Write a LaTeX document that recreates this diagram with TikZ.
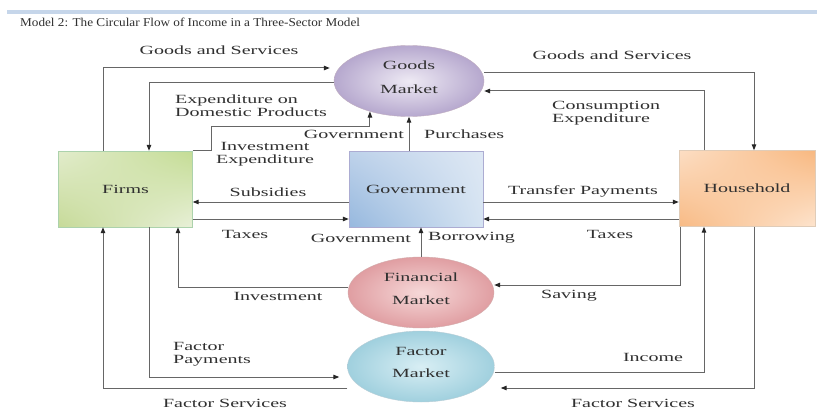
\documentclass[tikz,border=0pt]{standalone}
\usepackage{fontspec}
\setmainfont{Liberation Serif}[FakeStretch=1.6]
\newfontfamily\titlefont{Liberation Serif}[FakeStretch=1.1]
\usetikzlibrary{arrows.meta,shapes.geometric,shadings,calc}
\definecolor{txt}{HTML}{303030}
\definecolor{ln}{HTML}{666666}
\definecolor{bar}{HTML}{C6D6EA}
\definecolor{fUL}{RGB}{226,236,204}
\definecolor{fUR}{RGB}{196,220,148}
\definecolor{fLL}{RGB}{198,218,152}
\definecolor{fLR}{RGB}{232,240,216}
\definecolor{gUL}{RGB}{190,210,234}
\definecolor{gUR}{RGB}{222,232,244}
\definecolor{gLL}{RGB}{150,184,222}
\definecolor{gLR}{RGB}{214,228,242}
\definecolor{hUL}{RGB}{252,222,196}
\definecolor{hUR}{RGB}{248,184,128}
\definecolor{hLL}{RGB}{248,186,132}
\definecolor{hLR}{RGB}{253,228,206}
\definecolor{gmIn}{RGB}{238,234,244}
\definecolor{gmOut}{RGB}{182,168,206}
\definecolor{fiIn}{RGB}{246,216,216}
\definecolor{fiOut}{RGB}{224,158,162}
\definecolor{faIn}{RGB}{216,238,244}
\definecolor{faOut}{RGB}{160,208,222}
\begin{document}
\begin{tikzpicture}[x=1pt,y=-1pt,
  lbl/.style={font=\fontsize{12.5}{13}\selectfont, text=txt, inner sep=0pt},
  conn/.style={draw=ln, line width=1pt},
  arr/.style={conn, -{Triangle[length=6pt,width=4.5pt,color=black!85]}},
  mkt/.style={ellipse, minimum width=150pt, minimum height=71pt, inner sep=0pt,
    align=center, font=\fontsize{12.5}{13}\selectfont, text=txt},
  sector/.style={rectangle, minimum width=134pt, minimum height=76pt, inner sep=0pt,
    font=\fontsize{12.5}{13}\selectfont, text=txt}
]
\useasboundingbox (0,0) rectangle (817,420);
\fill[white] (0,0) rectangle (817,420);
% top bar and title
\fill[bar] (7,10) rectangle (817,14);
\node[lbl, anchor=west] (title) at (20,22) {\titlefont\fontsize{12}{13}\selectfont Model 2: The Circular Flow of Income in a Three-Sector Model};

% sectors
\node[sector, draw=green!30!gray!50, upper left=fUL, upper right=fUR,
  lower left=fLL, lower right=fLR] (firms) at (125.5,189) {Firms};
\node[sector, draw=blue!30!gray!50, upper left=gUL, upper right=gUR,
  lower left=gLL, lower right=gLR] (gov) at (416,189) {Government};
\node[sector, minimum width=136pt, draw=orange!40!gray!40, upper left=hUL, upper right=hUR,
  lower left=hLL, lower right=hLR] (hh) at (747,188.5) {Household};

% markets
\node[mkt, draw=violet!30!gray!50, inner color=gmIn, outer color=gmOut] (gm) at (409,81) {Goods\\[11pt]Market\\[-5pt]\mbox{}};
\node[mkt, minimum width=146pt, draw=red!30!gray!50, inner color=fiIn, outer color=fiOut] (fin) at (421,292.5) {Financial\\[10pt]Market\\[-5pt]\mbox{}};
\node[mkt, minimum width=147pt, draw=cyan!30!gray!50, inner color=faIn, outer color=faOut] (fac) at (421,366.5) {Factor\\[9pt]Market\\[-4pt]\mbox{}};

% routing coordinates
\coordinate (cA) at (103,0);
\coordinate (cB) at (149,0);
\coordinate (cC) at (178,0);
\coordinate (cD) at (211,0);
\coordinate (cG) at (680,0);
\coordinate (cH) at (704,0);
\coordinate (cI) at (754,0);
\coordinate (r1) at (0,68);
\coordinate (r2) at (0,83);
\coordinate (r3) at (0,126);
\coordinate (r4) at (0,73);
\coordinate (r5) at (0,91);
\coordinate (r6) at (0,202);
\coordinate (r7) at (0,219);
\coordinate (r8) at (0,287);
\coordinate (r8s) at (0,285);
\coordinate (r9) at (0,377);
\coordinate (r10) at (0,388);
\coordinate (r11) at (0,372);

% connectors
\draw[arr, shorten >=4pt] (firms.north -| cA) |- (gm.west |- r1);
\draw[arr] (gm.west |- r2) -| (firms.north -| cB);
\draw[arr] (firms.north east) -| (cD |- r3) -| (gm.218);
\draw[arr] (gov.north -| gm.south) -- (gm.south);
\draw[arr] (gm.east |- r4) -| (hh.north -| cI);
\draw[arr] (hh.north -| cH) |- (gm.east |- r5);
\draw[arr] (gov.east |- r6) -- (hh.west |- r6);
\draw[arr] (hh.west |- r7) -- (gov.east |- r7);
\draw[arr] (gov.west |- r6) -- (firms.east |- r6);
\draw[arr] (firms.east |- r7) -- (gov.west |- r7);
\draw[arr] (fin.north) -- (fin.north |- gov.south);
\draw[arr] (fin.west |- r8) -| (firms.south -| cC);
\draw[arr] (hh.south -| cG) |- (fin.east |- r8s);
\draw[arr, shorten >=8pt] (firms.south -| cB) |- (fac.west |- r9);
\draw[arr] (fac.west |- r10) -| (firms.south -| cA);
\draw[arr] (fac.east |- r11) -| (hh.south -| cH);
\draw[arr, shorten >=6pt] (hh.south -| cI) |- (fac.east |- r10);

% labels
\node[lbl] (l1) at (219,50) {Goods and Services};
\node[lbl] (l2) at (612,55) {Goods and Services};
\node[lbl, anchor=west, align=left] (l3) at (175,105.5) {Expenditure on\\Domestic Products};
\node[lbl, align=center] (l4) at (265,154.5) {Investment\\Expenditure};
\node[lbl, anchor=east] (l5) at (404,134) {Government};
\node[lbl, anchor=west] (l6) at (424,134) {Purchases};
\node[lbl, anchor=west, align=left] (l7) at (552,113) {Consumption\\Expenditure};
\node[lbl] (l8) at (268,192) {Subsidies};
\node[lbl] (l9) at (245,234) {Taxes};
\node[lbl] (l10) at (583,191) {Transfer Payments};
\node[lbl] (l11) at (610,234) {Taxes};
\node[lbl, anchor=east] (l12) at (411,238) {Government};
\node[lbl, anchor=west] (l13) at (428,238) {Borrowing};
\node[lbl] (l14) at (278,296) {Investment};
\node[lbl] (l15) at (569,296) {Saving};
\node[lbl, anchor=west, align=left] (l16) at (173,354) {Factor\\Payments};
\node[lbl] (l17) at (653,357) {Income};
\node[lbl] (l18) at (225,403) {Factor Services};
\node[lbl] (l19) at (633,403) {Factor Services};
\end{tikzpicture}
\end{document}
